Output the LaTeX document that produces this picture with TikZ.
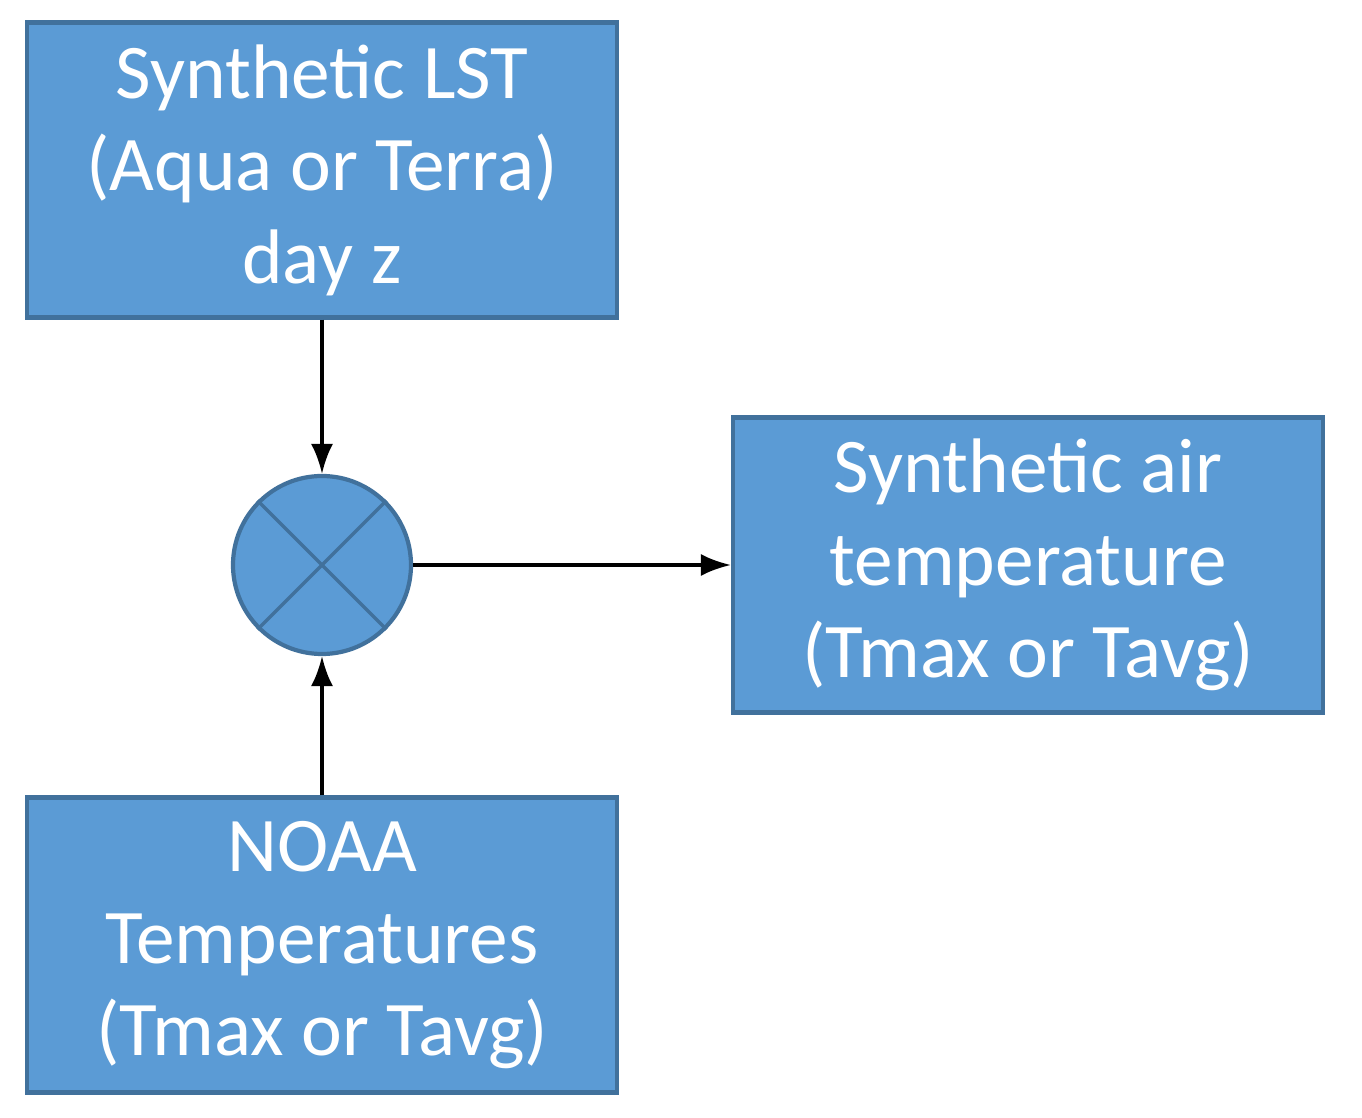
\documentclass[tikz,border=0pt]{standalone}
\usepackage{fontspec}
\setmainfont{Carlito}
\usetikzlibrary{positioning,arrows.meta}
\definecolor{boxfill}{HTML}{5B9BD5}
\definecolor{boxdraw}{HTML}{41719C}
\begin{document}
\begin{tikzpicture}[
MyBox/.style={draw=boxdraw,fill=boxfill,line width=1.2pt,minimum width=5.9cm,minimum height=2.95cm,
  align=center,text=white,font=\fontsize{22}{26.3}\selectfont},
MyMixer/.style={circle,draw=boxdraw,fill=boxfill,line width=1.2pt,minimum size=1.78cm},
Links/.style={-{Latex[length=3mm,width=2.2mm]},line width=1pt}
]
\useasboundingbox (0,0) rectangle (13.62,-11.18);

\node[MyBox] (lst) at (3.22,-1.70) {Synthetic LST\\(Aqua or Terra)\\day z};
\node[MyMixer] (mix) at (3.22,-5.65) {};
\node[MyBox] (noaa) at (3.22,-9.45) {NOAA\\Temperatures\\(Tmax or Tavg)};
\node[MyBox] (air) at (10.28,-5.65) {Synthetic air\\temperature\\(Tmax or Tavg)};

\draw[boxdraw,line width=1pt] (mix.north west)--(mix.south east) (mix.north east)--(mix.south west);

\draw[Links] (lst)--(mix);
\draw[Links] (noaa)--(mix);
\draw[Links] (mix)--(air);
\end{tikzpicture}
\end{document}
